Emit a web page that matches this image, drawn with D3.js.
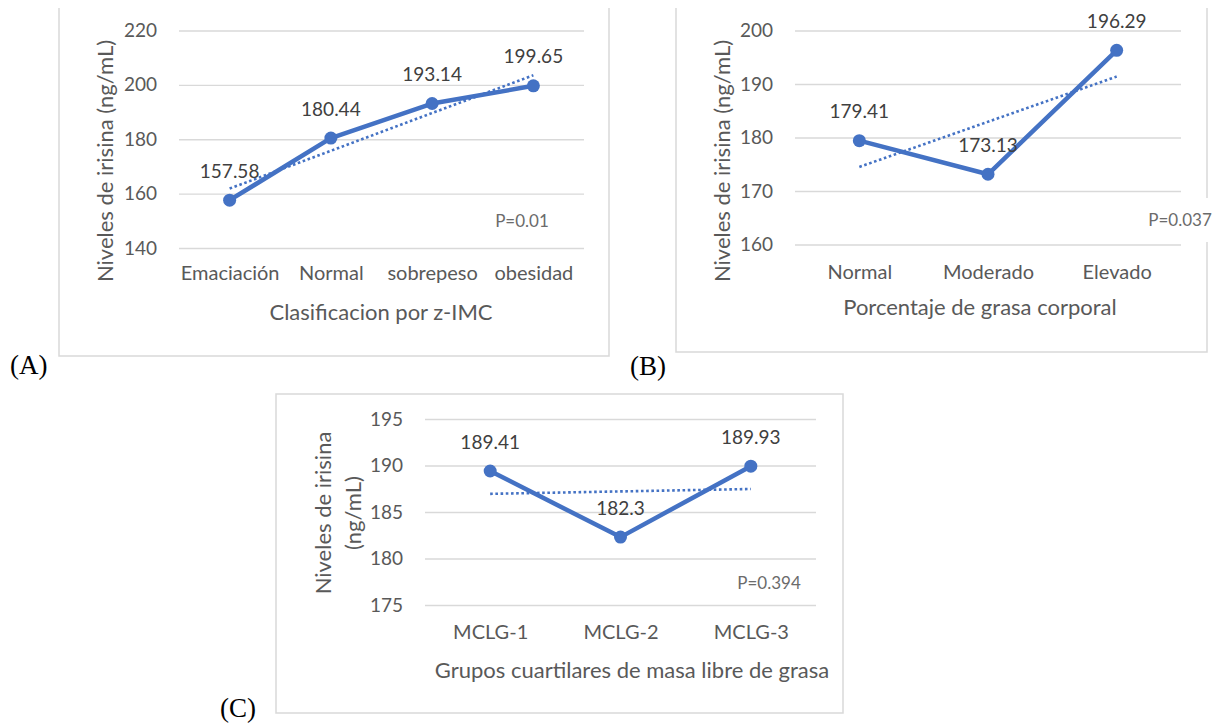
<!DOCTYPE html>
<html>
<head>
<meta charset="utf-8">
<script src="https://cdn.jsdelivr.net/npm/d3@7"></script>
<style>
  html, body { margin: 0; padding: 0; background: #fff; }
  svg { display: block; }
  text { font-family: Lato, "Open Sans", sans-serif; }
</style>
</head>
<body>
<svg id="chart" width="1221" height="723"></svg>
<script>
// ---- Data ----
const zimcCategories = ["Emaciación", "Normal", "sobrepeso", "obesidad"];
const zimcValues = [157.58, 180.44, 193.14, 199.65];
const zimcTicks = [140, 160, 180, 200, 220];

const grasaCategories = ["Normal", "Moderado", "Elevado"];
const grasaValues = [179.41, 173.13, 196.29];
const grasaTicks = [160, 170, 180, 190, 200];

const mlgCategories = ["MCLG-1", "MCLG-2", "MCLG-3"];
const mlgValues = [189.41, 182.3, 189.93];
const mlgTicks = [175, 180, 185, 190, 195];

const panelLetters = ["(A)", "(B)", "(C)"];
const xTitles = ["Clasificacion por z-IMC", "Porcentaje de grasa corporal", "Grupos cuartilares de masa libre de grasa"];
const yTitleLines = [["Niveles de irisina (ng/mL)"], ["Niveles de irisina (ng/mL)"], ["Niveles de irisina", "(ng/mL)"]];
const pLabels = ["P=0.01", "P=0.037", "P=0.394"];

// ---- Styles ----
const BLUE = "#4472C4";
const TEXT = "#595959";
const GRID = "#d9d9d9";
const FRAME = "#d9d9d9";

const svg = d3.select("#chart");

// Least-squares line through (1..n, values)
function trend(values) {
  const n = values.length;
  const xs = d3.range(1, n + 1);
  const mx = d3.mean(xs), my = d3.mean(values);
  const slope = d3.sum(xs, (x, i) => (x - mx) * (values[i] - my)) / d3.sum(xs, x => (x - mx) ** 2);
  return xs.map(x => my + slope * (x - mx));
}

function drawPanel(cfg) {
  const g = svg.append("g");

  // outer frame
  g.append("path").attr("d", cfg.frame)
    .attr("fill", "none").attr("stroke", FRAME).attr("stroke-width", 1.5);

  const x = d3.scalePoint().domain(cfg.categories).range([cfg.x0, cfg.x1]).padding(0.5);
  const y = d3.scaleLinear().domain(d3.extent(cfg.ticks)).range([cfg.yBottom, cfg.yTop]);

  // gridlines + tick labels
  const yAxis = g.append("g")
    .attr("transform", `translate(${cfg.x0},0)`)
    .call(d3.axisLeft(y).tickValues(cfg.ticks).tickSize(-(cfg.x1 - cfg.x0)).tickPadding(22).tickFormat(d3.format("d")));
  yAxis.select(".domain").remove();
  yAxis.selectAll(".tick line").attr("stroke", GRID).attr("stroke-width", 1.3);
  yAxis.selectAll(".tick text").attr("fill", TEXT).attr("font-size", 19);

  // category labels
  const xAxis = g.append("g")
    .attr("transform", `translate(0,${cfg.catY})`)
    .call(d3.axisBottom(x).tickSize(0).tickPadding(0));
  xAxis.select(".domain").remove();
  xAxis.selectAll(".tick text").attr("fill", TEXT).attr("font-size", 20).attr("dy", "0.35em");

  // axis titles
  g.append("text")
    .attr("x", cfg.xTitle[0]).attr("y", cfg.xTitle[1])
    .attr("text-anchor", "middle").attr("dy", "0.35em")
    .attr("fill", TEXT).attr("font-size", 22)
    .text(cfg.xTitleText);

  const yt = g.append("text")
    .attr("transform", `translate(${cfg.yTitle[0]},${cfg.yTitle[1]}) rotate(-90)`)
    .attr("text-anchor", "middle").attr("fill", TEXT).attr("font-size", 22);
  const nLines = cfg.yTitleText.length;
  cfg.yTitleText.forEach((line, i) => {
    yt.append("tspan").attr("x", 0).attr("y", (i - (nLines - 1) / 2) * 30).attr("dy", "0.35em").text(line);
  });

  // dotted linear trend between first and last category
  const tv = trend(cfg.values);
  const ends = [0, cfg.categories.length - 1];
  g.append("path")
    .datum(ends)
    .attr("d", d3.line().x(k => x(cfg.categories[k])).y(k => y(tv[k])))
    .attr("fill", "none").attr("stroke", BLUE).attr("stroke-width", 2.6)
    .attr("stroke-dasharray", "2.6 2.6");

  // series line
  g.append("path")
    .datum(cfg.values)
    .attr("d", d3.line().x((d, i) => x(cfg.categories[i])).y(d => y(d)))
    .attr("fill", "none").attr("stroke", BLUE).attr("stroke-width", 4.5)
    .attr("stroke-linejoin", "round").attr("stroke-linecap", "round");

  // markers
  g.selectAll("circle.pt").data(cfg.values).join("circle")
    .attr("class", "pt")
    .attr("cx", (d, i) => x(cfg.categories[i]))
    .attr("cy", d => y(d))
    .attr("r", 6.5).attr("fill", BLUE);

  // data labels
  g.selectAll("text.val").data(cfg.values).join("text")
    .attr("class", "val")
    .attr("x", (d, i) => x(cfg.categories[i]))
    .attr("y", d => y(d) - 29)
    .attr("dy", "0.35em")
    .attr("text-anchor", "middle")
    .attr("fill", "#404040").attr("font-size", 19)
    .text(d => String(d));

  // p-value text box
  if (cfg.pBox) {
    g.append("rect").attr("x", cfg.pBox[0]).attr("y", cfg.pBox[1])
      .attr("width", cfg.pBox[2]).attr("height", cfg.pBox[3]).attr("fill", "#fff");
  }
  g.append("text")
    .attr("x", cfg.pPos[0]).attr("y", cfg.pPos[1])
    .attr("text-anchor", "middle").attr("dy", "0.35em")
    .attr("fill", "#6b6b6b").attr("font-size", 17)
    .text(cfg.pText);

  // panel letter
  svg.append("text")
    .attr("x", cfg.letter[0]).attr("y", cfg.letter[1])
    .attr("dy", "0.35em")
    .style("font-family", "'Liberation Serif', 'DejaVu Serif', serif")
    .attr("font-size", 27).attr("fill", "#000")
    .text(cfg.letterText);
}

drawPanel({
  categories: zimcCategories, values: zimcValues, ticks: zimcTicks,
  x0: 179, x1: 584, yTop: 30.5, yBottom: 248,
  catY: 273, xTitle: [381, 312], xTitleText: xTitles[0],
  yTitle: [105, 161], yTitleText: yTitleLines[0],
  frame: "M59,8V356H609V8",
  pPos: [522, 221], pText: pLabels[0],
  letter: [10, 365], letterText: panelLetters[0]
});

drawPanel({
  categories: grasaCategories, values: grasaValues, ticks: grasaTicks,
  x0: 795, x1: 1181, yTop: 30.5, yBottom: 244.5,
  catY: 272, xTitle: [980, 307], xTitleText: xTitles[1],
  yTitle: [722, 161], yTitleText: yTitleLines[1],
  frame: "M676,8V352H1207V8",
  pBox: [1142, 198, 79, 44],
  pPos: [1180, 220], pText: pLabels[1],
  letter: [630, 366], letterText: panelLetters[1]
});

drawPanel({
  categories: mlgCategories, values: mlgValues, ticks: mlgTicks,
  x0: 425, x1: 816, yTop: 419, yBottom: 605,
  catY: 632, xTitle: [632, 670], xTitleText: xTitles[2],
  yTitle: [338, 513], yTitleText: yTitleLines[2],
  frame: "M276,394H843V713H276Z",
  pPos: [769, 583], pText: pLabels[2],
  letter: [220, 708], letterText: panelLetters[2]
});
</script>
</body>
</html>
